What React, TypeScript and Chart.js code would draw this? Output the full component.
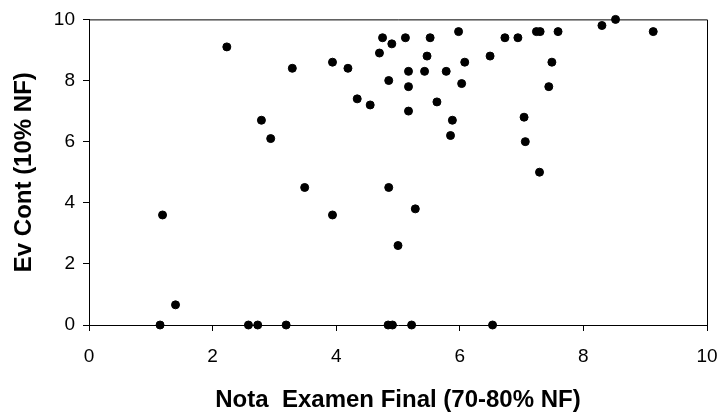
import React, { useEffect, useRef } from "react";
import { Chart, registerables } from "chart.js";

Chart.register(...registerables);

// Final exam grade (x) against continuous assessment grade (y), one point per student
const examGrades: number[] = [
  2.23, 2.79, 2.94, 3.29, 3.49, 3.94, 4.19, 4.34, 4.75, 4.9, 5.12, 5.52, 5.98, 6.73,
  6.94, 7.24, 7.3, 7.59, 8.3, 8.52, 9.13, 4.7, 5.47, 6.08, 6.49, 7.49, 5.17, 5.43,
  5.78, 4.85, 5.17, 6.03, 7.44, 4.55, 5.17, 5.63, 5.88, 5.85, 7.04, 7.06, 7.29, 4.85,
  5.28, 1.19, 3.94, 1.4, 1.15, 2.58, 2.73, 3.19, 5.0, 4.84, 4.91, 5.22, 6.53,
];
const contGrades: number[] = [
  9.1, 6.7, 6.1, 8.4, 4.5, 8.6, 8.4, 7.4, 9.4, 9.2, 9.4, 9.4, 9.6, 9.4,
  9.4, 9.6, 9.6, 9.6, 9.8, 10, 9.6, 8.9, 8.8, 8.6, 8.8, 8.6, 8.3, 8.3,
  8.3, 8.0, 7.8, 7.9, 7.8, 7.2, 7.0, 7.3, 6.7, 6.2, 6.8, 6.0, 5.0, 4.5,
  3.8, 3.6, 3.6, 0.66, 0, 0, 0, 0, 2.6, 0, 0, 0, 0,
];

const xTitle = "Nota  Examen Final (70-80% NF)";
const yTitle = "Ev Cont (10% NF)";
const axisMin = 0;
const axisMax = 10;
const axisStep = 2;

const FONT = "'Liberation Sans', Arial, sans-serif";

// Closes the plot frame with top and right edges
const frame = {
  id: "frame",
  afterDatasetsDraw(chart: Chart) {
    const { ctx, chartArea } = chart;
    ctx.save();
    ctx.strokeStyle = "#000";
    ctx.lineWidth = 1;
    ctx.beginPath();
    ctx.moveTo(chartArea.left, chartArea.top + 0.5);
    ctx.lineTo(chartArea.right + 0.5, chartArea.top + 0.5);
    ctx.lineTo(chartArea.right + 0.5, chartArea.bottom);
    ctx.stroke();
    ctx.restore();
  },
};

export default function App() {
  const canvasRef = useRef<HTMLCanvasElement | null>(null);

  useEffect(() => {
    if (!canvasRef.current) return;
    const points = examGrades.map((x, i) => ({ x, y: contGrades[i] }));
    const chart = new Chart(canvasRef.current, {
      type: "scatter",
      data: {
        datasets: [
          {
            data: points,
            backgroundColor: "#000",
            borderColor: "#000",
            pointRadius: 4,
            pointHoverRadius: 4,
            clip: false as any,
          },
        ],
      },
      plugins: [frame],
      options: {
        responsive: false,
        animation: false,
        devicePixelRatio: 1,
        layout: { padding: { left: 0, top: 17, right: 12, bottom: 0 } },
        plugins: { legend: { display: false }, tooltip: { enabled: false } },
        scales: {
          x: {
            type: "linear",
            min: axisMin,
            max: axisMax,
            ticks: {
              stepSize: axisStep,
              color: "#000",
              padding: 14,
              font: { family: FONT, size: 19 },
            },
            grid: {
              drawOnChartArea: false,
              drawTicks: true,
              tickLength: 6,
              color: "#000",
            },
            border: { display: true, color: "#000", width: 1 },
            title: {
              display: true,
              text: xTitle,
              color: "#000",
              padding: { top: 0, bottom: 0 },
              font: { family: FONT, size: 24, weight: "bold", lineHeight: 1.0 },
            },
            afterFit(scale: any) {
              scale.height = 87;
              scale.paddingLeft = 0;
              scale.paddingRight = 0;
            },
          },
          y: {
            type: "linear",
            min: axisMin,
            max: axisMax,
            ticks: {
              stepSize: axisStep,
              color: "#000",
              padding: 8,
              font: { family: FONT, size: 19 },
            },
            grid: {
              drawOnChartArea: false,
              drawTicks: true,
              tickLength: 6,
              color: "#000",
            },
            border: { display: true, color: "#000", width: 1 },
            title: {
              display: true,
              text: yTitle,
              color: "#000",
              padding: { top: 10, bottom: 0 },
              font: { family: FONT, size: 24, weight: "bold" },
            },
            afterFit(scale: any) {
              scale.width = 89;
            },
          },
        },
      },
    });
    return () => chart.destroy();
  }, []);

  return (
    <div style={{ position: "absolute", left: 0, top: 0, width: 719, height: 412, background: "#fff" }}>
      <canvas ref={canvasRef} width={719} height={412} style={{ display: "block" }} />
    </div>
  );
}
